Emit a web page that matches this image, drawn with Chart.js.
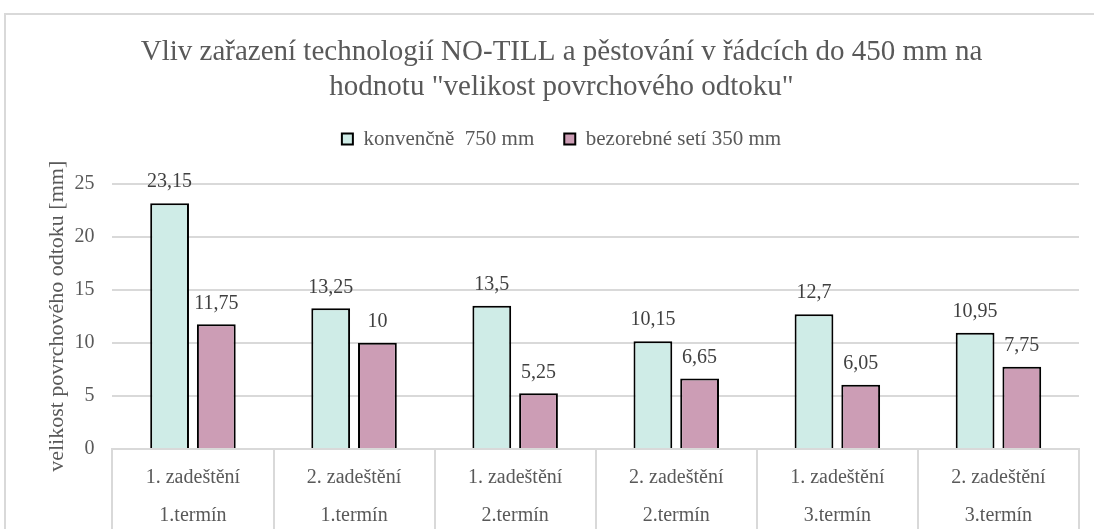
<!DOCTYPE html>
<html>
<head>
<meta charset="utf-8">
<script src="https://cdn.jsdelivr.net/npm/chart.js@4.4.1/dist/chart.umd.min.js"></script>
<style>
  body { margin: 0; background: #fff; }
  #wrap { position: relative; width: 1094px; height: 529px; }
  #frame { position: absolute; left: 4px; top: 13px; right: -2px; bottom: -2px; border: 2px solid #d9d9d9; }
  #chart { position: absolute; left: 0; top: 0; }
</style>
</head>
<body>
<div id="wrap">
  <div id="frame"></div>
  <canvas id="chart" width="1094" height="529"></canvas>
</div>
<script>
const chartElm = document.getElementById('chart');

// categories: two label rows
const rains = ['1. zadeštění', '2. zadeštění', '1. zadeštění', '2. zadeštění', '1. zadeštění', '2. zadeštění']
const terms = ['1.termín', '1.termín', '2.termín', '2.termín', '3.termín', '3.termín']

const conventional = [23.15, 13.25, 13.5, 10.15, 12.7, 10.95]
const noTill = [11.75, 10, 5.25, 6.65, 6.05, 7.75]

const yTicks = [0, 5, 10, 15, 20, 25]

const textGray = '#595959'
const lineGray = '#d9d9d9'
const serif = "'Liberation Serif', 'Times New Roman', serif"

// value labels above bars, with decimal comma
const valueLabels = {
    id: 'valueLabels',
    afterDatasetsDraw(chart) {
        const ctx = chart.ctx
        ctx.save()
        ctx.font = '20px ' + serif
        ctx.fillStyle = '#404040'
        ctx.textAlign = 'center'
        ctx.textBaseline = 'middle'
        chart.data.datasets.forEach((ds, i) => {
            chart.getDatasetMeta(i).data.forEach((bar, j) => {
                ctx.fillText(ds.data[j].toString().replace('.', ','), bar.x, bar.y - 21)
            })
        })
        ctx.restore()
    }
}

// vertical separators between categories, below the axis only
const categorySeparators = {
    id: 'categorySeparators',
    afterDraw(chart) {
        const x = chart.scales.x
        const ctx = chart.ctx
        const n = chart.data.labels.length
        const step = (x.right - x.left) / n
        ctx.save()
        ctx.strokeStyle = lineGray
        ctx.lineWidth = 2
        for (let i = 0; i <= n; i++) {
            const px = Math.round(x.left + step * i)
            ctx.beginPath()
            ctx.moveTo(px, x.top)
            ctx.lineTo(px, chart.height)
            ctx.stroke()
        }
        ctx.restore()
    }
}

// extra room under the legend
const legendGap = {
    id: 'legendGap',
    beforeInit(chart) {
        const fit = chart.legend.fit
        chart.legend.fit = function () {
            fit.bind(chart.legend)()
            this.height += 24
        }
    }
}

new Chart(chartElm, {
    type: 'bar',
    data: {
        labels: rains.map((r, i) => [r, terms[i]]),
        datasets: [{
            label: 'konvenčně  750 mm',
            data: conventional,
            backgroundColor: '#cfece7',
            borderColor: '#000',
            borderWidth: 2,
            borderSkipped: 'bottom',
            categoryPercentage: 0.58,
            barPercentage: 0.83,
        }, {
            label: 'bezorebné setí 350 mm',
            data: noTill,
            backgroundColor: '#cc9db5',
            borderColor: '#000',
            borderWidth: 2,
            borderSkipped: 'bottom',
            categoryPercentage: 0.58,
            barPercentage: 0.83,
        }]
    },
    options: {
        responsive: false,
        animation: false,
        layout: { padding: { left: 44, right: 15, top: 35, bottom: -8 } },
        plugins: {
            title: {
                display: true,
                text: ['Vliv zařazení technologií NO-TILL a pěstování v řádcích do 450 mm na', 'hodnotu "velikost povrchového odtoku"'],
                color: textGray,
                font: { family: serif, size: 29, weight: 'normal', lineHeight: 1.2 },
                padding: { top: 0, bottom: -6 }
            },
            legend: {
                labels: {
                    color: textGray,
                    font: { family: serif, size: 21 },
                    boxWidth: 11,
                    boxHeight: 11,
                    padding: 30,
                },
            },
            tooltip: { enabled: false }
        },
        scales: {
            x: {
                grid: { display: false },
                border: { color: lineGray, width: 2 },
                ticks: {
                    color: textGray,
                    font: { family: serif, size: 20, lineHeight: 1.9 },
                    padding: 2,
                    maxRotation: 0,
                    autoSkip: false,
                }
            },
            y: {
                min: 0,
                max: 25,
                afterBuildTicks: axis => { axis.ticks = yTicks.map(v => ({ value: v })) },
                grid: { color: lineGray, lineWidth: 2, drawTicks: false },
                border: { display: false },
                ticks: {
                    color: textGray,
                    font: { family: serif, size: 20 },
                    padding: 18,
                },
                title: {
                    display: true,
                    text: 'velikost povrchového odtoku [mm]',
                    color: textGray,
                    font: { family: serif, size: 22 },
                    padding: { top: 0, bottom: -14 }
                }
            }
        }
    },
    plugins: [valueLabels, categorySeparators, legendGap]
});
</script>
</body>
</html>
